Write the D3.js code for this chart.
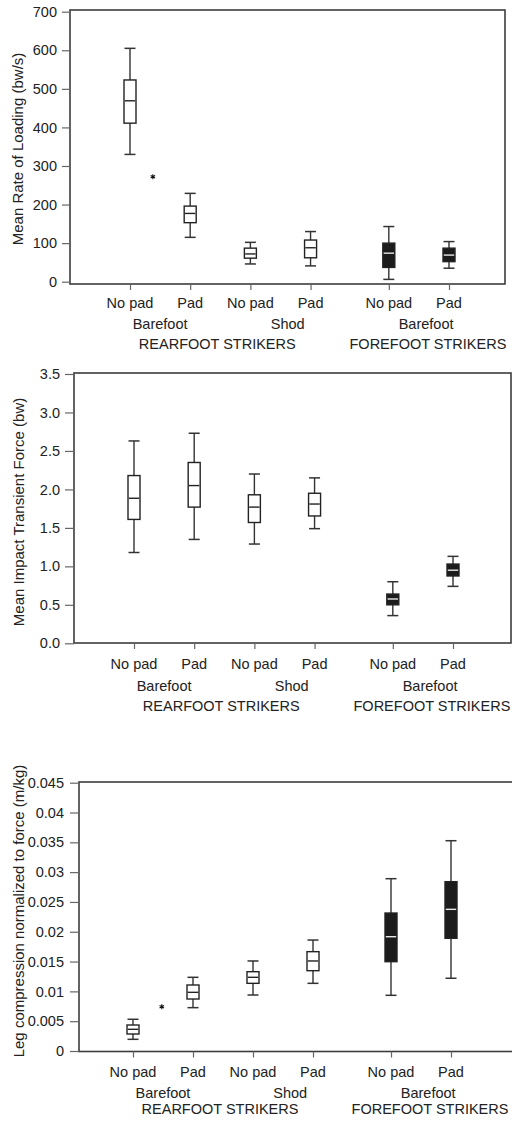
<!DOCTYPE html>
<html>
<head>
<meta charset="utf-8">
<script src="https://cdn.jsdelivr.net/npm/d3@7"></script>
<style>
  body { margin: 0; background: #fff; }
  text { font-family: "Liberation Sans", Arial, Helvetica, sans-serif; fill: #222; }
</style>
</head>
<body>
<svg id="chart" width="512" height="1121"></svg>
<script>
// x categories, shared by all three panels
const categories = ["No pad", "Pad", "No pad", "Pad", "No pad", "Pad"];
const slots = [0, 1, 2, 3, 4.3, 5.3];
const filled = [false, false, false, false, true, true];
const footwear = ["Barefoot", "Shod", "Barefoot"];
const footwearAt = [0.5, 2.62, 4.92];
const strikers = ["REARFOOT STRIKERS", "FOREFOOT STRIKERS"];
const strikersAt = [1.45, 4.95];

// each box: [lower whisker, q1, median, q3, upper whisker]
const loadingRate = [
  [330, 411, 469, 523, 605],
  [115, 153, 177, 196, 229],
  [46, 61, 72, 87, 102],
  [41, 62, 88, 108, 130],
  [6, 37, 74, 100, 143],
  [35, 52, 69, 87, 104]
];
const loadingOutliers = [[0.38, 272]];
const loadingTicks = [0, 100, 200, 300, 400, 500, 600, 700];

const impactForce = [
  [1.18, 1.61, 1.885, 2.18, 2.63],
  [1.35, 1.77, 2.05, 2.35, 2.73],
  [1.29, 1.57, 1.77, 1.93, 2.20],
  [1.49, 1.655, 1.81, 1.95, 2.15],
  [0.36, 0.50, 0.576, 0.64, 0.80],
  [0.74, 0.875, 0.95, 1.03, 1.13]
];
const impactOutliers = [];
const impactTicks = [0, 0.5, 1, 1.5, 2, 2.5, 3, 3.5];

const legCompression = [
  [0.00196, 0.00285, 0.00364, 0.00436, 0.00532],
  [0.00727, 0.00872, 0.00984, 0.01107, 0.01236],
  [0.00939, 0.01135, 0.01236, 0.0133, 0.0151],
  [0.01135, 0.01347, 0.0151, 0.01666, 0.01861],
  [0.00934, 0.01498, 0.01917, 0.02314, 0.0289],
  [0.0122, 0.0189, 0.02376, 0.0284, 0.03527]
];
const legOutliers = [[0.48, 0.00743]];
const legTicks = [0, 0.005, 0.01, 0.015, 0.02, 0.025, 0.03, 0.035, 0.04, 0.045];

const panels = [
  { title: "Mean Rate of Loading (bw/s)", boxes: loadingRate, outliers: loadingOutliers,
    ticks: loadingTicks, fmt: d3.format("d"), max: 700,
    left: 70, right: 505, top: 10, bottom: 284, y0: 281.7, y1: 11.7, x0: 130, x1: 449,
    tick: 8, pad: 5, titleX: 17.5, titleY: 149, rows: [19, 39.5, 60] },
  { title: "Mean Impact Transient Force (bw)", boxes: impactForce, outliers: impactOutliers,
    ticks: impactTicks, fmt: d3.format(".1f"), max: 3.5,
    left: 74, right: 511, top: 373, bottom: 643, y0: 643.3, y1: 374, x0: 134, x1: 453,
    tick: 9, pad: 5, titleX: 19, titleY: 512, rows: [21, 43, 63] },
  { title: "Leg compression normalized to force (m/kg)", boxes: legCompression, outliers: legOutliers,
    ticks: legTicks, fmt: d3.format(".3~f"), max: 0.045,
    left: 79, right: 515, top: 782, bottom: 1051.5, y0: 1051, y1: 782.7, x0: 133, x1: 451,
    tick: 9, pad: 6, titleX: 19, titleY: 911, rows: [20, 41.5, 57] }
];

const svg = d3.select("#chart");
const boxW = 12, capW = 11;

panels.forEach(p => {
  const g = svg.append("g");
  const y = d3.scaleLinear().domain([0, p.max]).range([p.y0, p.y1]);
  const x = d3.scaleLinear().domain([0, 5.3]).range([p.x0, p.x1]);

  // frame
  g.append("rect")
    .attr("x", p.left).attr("y", p.top)
    .attr("width", p.right - p.left).attr("height", p.bottom - p.top)
    .attr("fill", "none").attr("stroke", "#3c3c3c").attr("stroke-width", 1.6);

  // y axis
  const ya = g.append("g")
    .attr("transform", "translate(" + p.left + ",0)")
    .call(d3.axisLeft(y).tickValues(p.ticks).tickFormat(p.fmt).tickSize(p.tick).tickPadding(p.pad));
  ya.select(".domain").remove();
  ya.selectAll("line").attr("stroke", "#666").attr("stroke-width", 1.2);
  ya.selectAll("text").style("font-size", "14.5px").attr("fill", "#222");

  // x axis ticks + category labels
  const xa = g.append("g")
    .attr("transform", "translate(0," + p.bottom + ")")
    .call(d3.axisBottom(x).tickValues(slots).tickFormat("").tickSize(6));
  xa.select(".domain").remove();
  xa.selectAll("line").attr("stroke", "#666").attr("stroke-width", 1.2);

  g.selectAll(".cat").data(categories).enter().append("text")
    .attr("x", (d, i) => x(slots[i]))
    .attr("y", p.bottom + p.rows[0]).attr("dy", "0.35em")
    .attr("text-anchor", "middle").style("font-size", "14.5px")
    .text(d => d);
  g.selectAll(".foot").data(footwear).enter().append("text")
    .attr("x", (d, i) => x(footwearAt[i]))
    .attr("y", p.bottom + p.rows[1]).attr("dy", "0.35em")
    .attr("text-anchor", "middle").style("font-size", "14.5px")
    .text(d => d);
  g.selectAll(".strk").data(strikers).enter().append("text")
    .attr("x", (d, i) => x(strikersAt[i]))
    .attr("y", p.bottom + p.rows[2]).attr("dy", "0.35em")
    .attr("text-anchor", "middle").style("font-size", "14.5px")
    .text(d => d);

  // y title
  g.append("text")
    .attr("transform", "translate(" + p.titleX + "," + p.titleY + ") rotate(-90)")
    .attr("dy", "0.35em").attr("text-anchor", "middle")
    .style("font-size", "15px")
    .text(p.title);

  // boxes
  const box = g.selectAll(".box").data(p.boxes).enter().append("g")
    .attr("transform", (d, i) => "translate(" + x(slots[i]) + ",0)");
  box.append("line")
    .attr("y1", d => y(d[0])).attr("y2", d => y(d[4]))
    .attr("stroke", "#333").attr("stroke-width", 1.4);
  box.selectAll(".cap").data(d => [d[0], d[4]]).enter().append("line")
    .attr("x1", -capW / 2).attr("x2", capW / 2)
    .attr("y1", v => y(v)).attr("y2", v => y(v))
    .attr("stroke", "#333").attr("stroke-width", 1.5);
  box.append("rect")
    .attr("x", -boxW / 2).attr("width", boxW)
    .attr("y", d => y(d[3])).attr("height", d => y(d[1]) - y(d[3]))
    .attr("fill", (d, i) => filled[i] ? "#1c1c1c" : "#fff")
    .attr("stroke", "#222").attr("stroke-width", 1.4);
  box.append("line")
    .attr("x1", -boxW / 2 + 0.8).attr("x2", boxW / 2 - 0.8)
    .attr("y1", d => y(d[2])).attr("y2", d => y(d[2]))
    .attr("stroke", (d, i) => filled[i] ? "#e8e8e8" : "#222")
    .attr("stroke-width", 1.4);

  // outliers
  g.selectAll(".out").data(p.outliers).enter().append("path")
    .attr("d", d3.symbol(d3.symbolAsterisk, 18))
    .attr("transform", d => "translate(" + x(d[0]) + "," + y(d[1]) + ")")
    .attr("fill", "none").attr("stroke", "#111").attr("stroke-width", 1.1);
});
</script>
</body>
</html>
